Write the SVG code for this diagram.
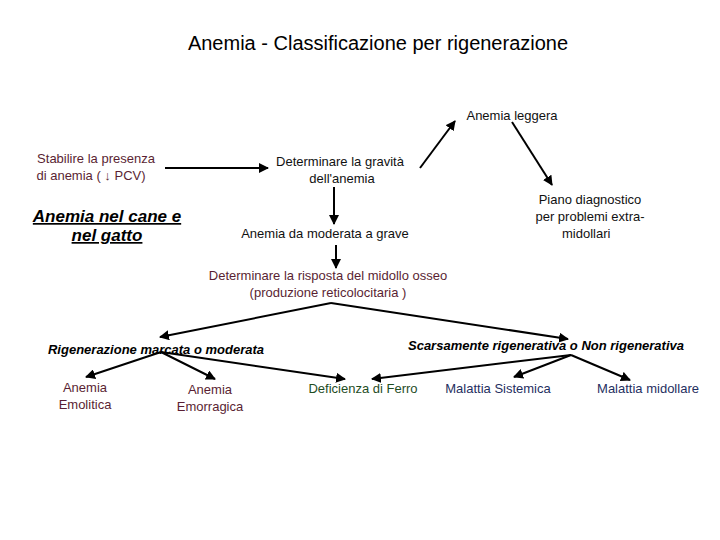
<svg xmlns="http://www.w3.org/2000/svg" width="720" height="540" viewBox="0 0 720 540">
<style>
text{font-family:"Liberation Sans",Arial,sans-serif;font-size:13px;text-anchor:middle}
.m{fill:#5a1f33}.k{fill:#111}.g{fill:#1f4d1f}.b{fill:#1f2f5f}
.bi{font-weight:bold;font-style:italic;fill:#000}
.c line{stroke:#000;stroke-width:2;marker-end:url(#a)}
</style>
<defs><marker id="a" viewBox="0 0 10 10" refX="9" refY="5" markerWidth="5" markerHeight="5" orient="auto"><path d="M0,0L10,5L0,10z" fill="#000"/></marker></defs>
<rect width="720" height="540" fill="#fff"/>
<text x="378" y="50" style="font-size:20px">Anemia - Classificazione per rigenerazione</text>
<g id="leggera"><text class="k" x="512" y="120">Anemia leggera</text></g>
<g id="stabilire"><text class="m" x="96" y="163">Stabilire la presenza</text><text class="m" x="91" y="180">di anemia ( ↓ PCV)</text></g>
<g id="gravita"><text class="k" x="340" y="166">Determinare la gravità</text><text class="k" x="342" y="183">dell'anemia</text></g>
<g id="titolo"><text class="bi" x="107" y="222" style="font-size:17px;text-decoration:underline">Anemia nel cane e</text><text class="bi" x="107" y="241" style="font-size:17px;text-decoration:underline">nel gatto</text></g>
<g id="piano"><text class="k" x="590" y="204">Piano diagnostico</text><text class="k" x="590" y="221">per problemi extra-</text><text class="k" x="562" y="238" style="text-anchor:start">midollari</text><text class="k" x="590" y="238" style="display:none"></text></g>
<g id="moderata"><text class="k" x="325" y="238">Anemia da moderata a grave</text></g>
<g id="risposta"><text class="m" x="328" y="280">Determinare la risposta del midollo osseo</text><text class="m" x="328" y="297">(produzione reticolocitaria )</text></g>
<g id="rig"><text class="bi" x="156" y="354">Rigenerazione marcata o moderata</text></g>
<g id="scars"><text class="bi" x="546" y="350">Scarsamente rigenerativa o Non rigenerativa</text></g>
<g id="emolitica"><text class="m" x="85" y="392">Anemia</text><text class="m" x="85" y="409">Emolitica</text></g>
<g id="emorragica"><text class="m" x="210" y="394">Anemia</text><text class="m" x="210" y="411">Emorragica</text></g>
<g id="ferro"><text class="g" x="363" y="393">Deficienza di Ferro</text></g>
<g id="sistemica"><text class="b" x="498" y="393">Malattia Sistemica</text></g>
<g id="midollare"><text class="b" x="648" y="393">Malattia midollare</text></g>
<g class="c" id="connectors">
<line x1="165" y1="168" x2="268" y2="168"/>
<line x1="420" y1="168" x2="455" y2="121"/>
<line x1="512" y1="122" x2="552" y2="185"/>
<line x1="334" y1="187" x2="334" y2="224"/>
<line x1="336" y1="245" x2="336" y2="268"/>
<line x1="331" y1="303" x2="160" y2="337"/>
<line x1="331" y1="303" x2="568" y2="339"/>
<line x1="161" y1="352" x2="86" y2="377"/>
<line x1="161" y1="352" x2="215" y2="379"/>
<line x1="161" y1="352" x2="345" y2="379"/>
<line x1="571" y1="355" x2="372" y2="379"/>
<line x1="571" y1="355" x2="514" y2="377"/>
<line x1="571" y1="355" x2="630" y2="380"/>
</g>
</svg>
